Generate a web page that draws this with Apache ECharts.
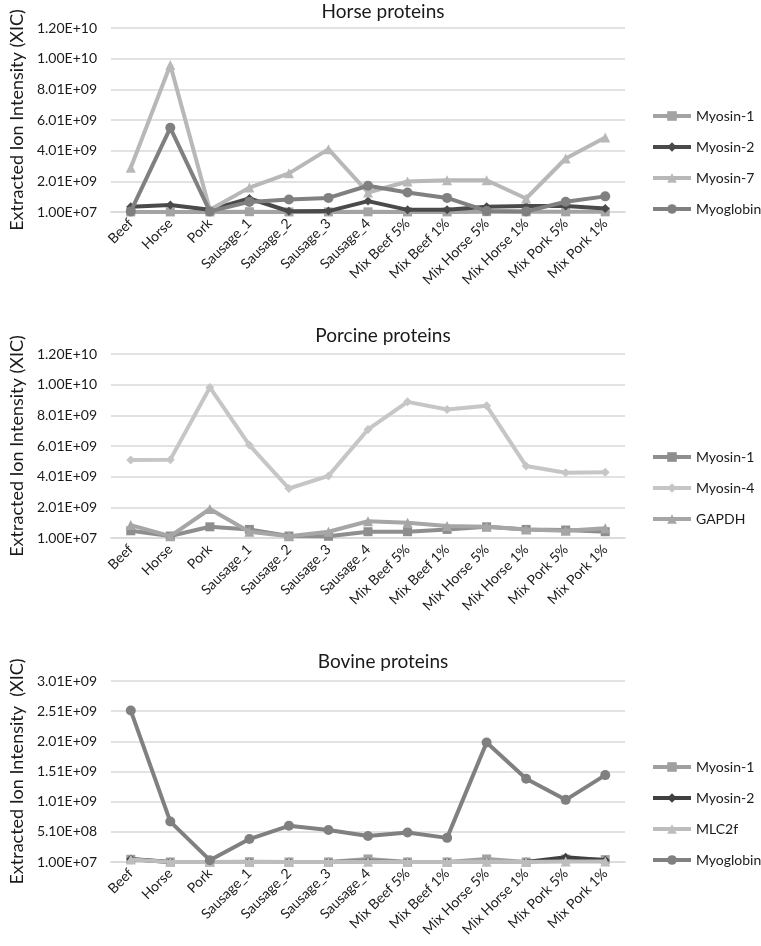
<!DOCTYPE html>
<html>
<head>
<meta charset="utf-8">
<script src="https://cdn.jsdelivr.net/npm/echarts@6/dist/echarts.min.js"></script>
<style>
html,body{margin:0;padding:0;background:#fff;}
#chart{width:761px;height:946px;}
</style>
</head>
<body>
<div id="chart"></div>
<script>
const categories = ['Beef','Horse','Pork','Sausage_1','Sausage_2','Sausage_3','Sausage_4','Mix Beef 5%','Mix Beef 1%','Mix Horse 5%','Mix Horse 1%','Mix Pork 5%','Mix Pork 1%'];

// Horse proteins
const horseMyosin1 = [1.5e7, 1.5e7, 1.5e7, 3e7, 1.5e7, 1.5e7, 2e7, 1.5e7, 1.5e7, 3e7, 2e7, 2e7, 2e7];
const horseMyosin2 = [3.5e8, 4.6e8, 1.5e8, 8.9e8, 6e7, 7e7, 7.2e8, 1.5e8, 1.5e8, 3.6e8, 4e8, 4e8, 2.4e8];
const horseMyosin7 = [2.9e9, 9.6e9, 1.5e8, 1.6e9, 2.53e9, 4.11e9, 1.28e9, 2.0e9, 2.08e9, 2.08e9, 8.9e8, 3.5e9, 4.87e9];
const horseMyoglobin = [5e7, 5.5e9, 5e7, 6.7e8, 8.3e8, 9.3e8, 1.72e9, 1.28e9, 9.3e8, 8e7, 5e7, 6.8e8, 1.03e9];

// Porcine proteins
const porcMyosin1 = [4.8e8, 1.4e8, 7.4e8, 5.7e8, 1.4e8, 1.2e8, 4.2e8, 4.2e8, 5.7e8, 7.4e8, 5.7e8, 5.3e8, 4.2e8];
const porcMyosin4 = [5.09e9, 5.12e9, 9.83e9, 6.07e9, 3.24e9, 4.06e9, 7.09e9, 8.89e9, 8.39e9, 8.63e9, 4.7e9, 4.26e9, 4.29e9];
const porcGAPDH = [8.5e8, 1.3e8, 1.9e9, 4.2e8, 1.3e8, 4.2e8, 1.1e9, 1.0e9, 7.9e8, 7.4e8, 5.7e8, 4.8e8, 6.4e8];

// Bovine proteins
const bovMyosin1 = [5.5e7, 1e7, 1e7, 1.5e7, 1e7, 1e7, 6e7, 1e7, 1e7, 6e7, 1e7, 6e7, 5e7];
const bovMyosin2 = [6e7, 1e7, 1e7, 1e7, 1e7, 1e7, 2e7, 1e7, 1e7, 1e7, 1e7, 9e7, 4e7];
const bovMLC2f = [5e7, 1e7, 1e7, 1e7, 1e7, 1e7, 1.5e7, 1e7, 1e7, 1.5e7, 1e7, 2e7, 2e7];
const bovMyoglobin = [2.52e9, 6.8e8, 4e7, 3.9e8, 6.1e8, 5.4e8, 4.4e8, 5e8, 4.1e8, 1.99e9, 1.39e9, 1.04e9, 1.45e9];

const titles = ['Horse proteins', 'Porcine proteins', 'Bovine proteins'];
const yNames = ['Extracted Ion Intensity (XIC)', 'Extracted Ion Intensity (XIC)', 'Extracted Ion Intensity  (XIC)'];

const FONT = 'Lato, "Open Sans", sans-serif';

function sci(v){
  let s = v.toExponential(2).toUpperCase();
  const m = s.match(/^(.*)E([+-])(\d+)$/);
  if (m) { s = m[1] + 'E' + m[2] + (m[3].length < 2 ? '0' + m[3] : m[3]); }
  return s;
}

const grids = [
  {left:105, right:136, top:28, height:184},
  {left:105, right:136, top:354, height:184},
  {left:105, right:136, top:681, height:181}
];
const yCfg = [
  {min:1e7, max:1.201e10, interval:2e9},
  {min:1e7, max:1.201e10, interval:2e9},
  {min:1e7, max:3.01e9, interval:5e8}
];

const xAxes = grids.map((g,i)=>({
  type:'category', gridIndex:i, data:categories, boundaryGap:true,
  axisLine:{lineStyle:{color:'#d9d9d9', width:1.5}},
  axisTick:{show:false},
  axisLabel:{rotate:45, interval:0, color:'#1a1a1a', fontSize:14, fontFamily:FONT, margin:9}
}));
const yAxes = grids.map((g,i)=>({
  type:'value', gridIndex:i, min:yCfg[i].min, max:yCfg[i].max, interval:yCfg[i].interval,
  name:yNames[i], nameLocation:'middle', nameGap:85,
  nameTextStyle:{fontSize:18, color:'#1a1a1a', fontFamily:FONT},
  axisLine:{show:false}, axisTick:{show:false},
  splitLine:{lineStyle:{color:'#d9d9d9', width:1.5}},
  axisLabel:{formatter:sci, color:'#1a1a1a', fontSize:14, fontFamily:FONT, margin:14}
}));

function ser(name, data, idx, color, symbol, size, z){
  return {
    name, type:'line', xAxisIndex:idx, yAxisIndex:idx, data,
    symbol, symbolSize:size, showAllSymbol:true, clip:false, z:z,
    lineStyle:{color, width:4}, itemStyle:{color},
    emphasis:{disabled:true}
  };
}

const C = {
  m1:'#a3a3a3', m2:'#4a4a4a', m7:'#b8b8b8', mg:'#808080',
  p1:'#8e8e8e', p4:'#c6c6c6', pg:'#a6a6a6',
  b1:'#a0a0a0', b2:'#404040', bl:'#bdbdbd', bg:'#808080'
};

const series = [
  ser('Myosin-1', horseMyosin1, 0, C.m1, 'rect', 9, 2),
  ser('Myosin-2', horseMyosin2, 0, C.m2, 'diamond', 9, 3),
  ser('Myosin-7', horseMyosin7, 0, C.m7, 'triangle', 10, 4),
  ser('Myoglobin', horseMyoglobin, 0, C.mg, 'circle', 10, 5),
  ser('Myosin-1 ', porcMyosin1, 1, C.p1, 'rect', 9, 2),
  ser('Myosin-4', porcMyosin4, 1, C.p4, 'diamond', 9, 3),
  ser('GAPDH', porcGAPDH, 1, C.pg, 'triangle', 10, 4),
  ser('Myosin-1  ', bovMyosin1, 2, C.b1, 'rect', 9, 2),
  ser('Myosin-2 ', bovMyosin2, 2, C.b2, 'diamond', 9, 3),
  ser('MLC2f', bovMLC2f, 2, C.bl, 'triangle', 10, 4),
  ser('Myoglobin ', bovMyoglobin, 2, C.bg, 'circle', 10, 5)
];

const legendBase = {
  orient:'vertical', left:646, itemWidth:38, itemHeight:12, itemGap:17,
  lineStyle:{width:4},
  textStyle:{fontSize:14, color:'#1a1a1a', fontFamily:FONT},
  selectedMode:false
};

const option = {
  backgroundColor:'#fff',
  animation:false,
  title: titles.map((t,i)=>({
    text:t, left:378, textAlign:'center', top:[-3,321,647][i],
    textStyle:{fontSize:19, fontWeight:'normal', color:'#1a1a1a', fontFamily:FONT}
  })),
  grid: grids,
  xAxis: xAxes,
  yAxis: yAxes,
  legend: [
    Object.assign({}, legendBase, {top:104, data:['Myosin-1','Myosin-2','Myosin-7','Myoglobin'], formatter:n=>n.trim()}),
    Object.assign({}, legendBase, {top:445, data:['Myosin-1 ','Myosin-4','GAPDH'], formatter:n=>n.trim()}),
    Object.assign({}, legendBase, {top:755, data:['Myosin-1  ','Myosin-2 ','MLC2f','Myoglobin '], formatter:n=>n.trim()})
  ],
  series
};

const chart = echarts.init(document.getElementById('chart'), null, {renderer:'canvas'});
chart.setOption(option);
</script>
</body>
</html>
